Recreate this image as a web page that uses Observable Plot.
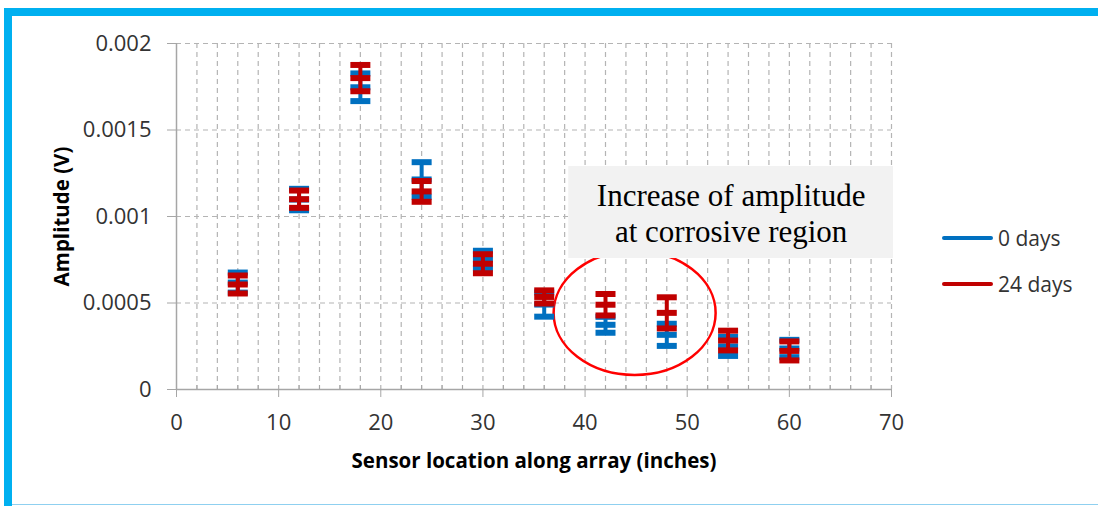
<!DOCTYPE html>
<html>
<head>
<meta charset="utf-8">
<script src="https://cdn.jsdelivr.net/npm/d3@7"></script>
<script src="https://cdn.jsdelivr.net/npm/@observablehq/plot@0.6"></script>
<style>
  html, body { margin: 0; padding: 0; background: #fff; }
  #wrap { position: relative; width: 1098px; height: 506px; overflow: hidden; font-family: "Open Sans", sans-serif; }
  #chart svg { display: block; }
  .bar { position: absolute; background: #00b0f0; }
  .legend { position: absolute; left: 942px; top: 0; font-size: 21px; color: #333; }
  .legend .item { position: absolute; left: 0; white-space: nowrap; display: flex; align-items: center; }
  .legend .sw { width: 51px; height: 4px; border-radius: 2px; margin-right: 5px; }
</style>
</head>
<body>
<div id="wrap">
  <div id="chart"></div>
  <div class="bar" style="left:4px;top:8px;width:8px;height:498px;"></div>
  <div class="bar" style="left:4px;top:8px;width:1094px;height:8px;"></div>
  <div style="position:absolute;left:12px;top:504px;width:1086px;height:1px;background:#8fd0f0;"></div>
  <div class="legend" id="legend"></div>
</div>
<script>
// ---- data ----
const positions = [6, 12, 18, 24, 30, 36, 42, 48, 54, 60];
const series = ["0 days", "24 days"];
const colors = ["#0070c0", "#c00000"];
const mean0 = [0.000618, 0.001098, 0.001747, 0.001214, 0.000751, 0.000491, 0.000374, 0.000316, 0.000249, 0.000237];
const err0  = [0.000058, 0.000062, 0.00008, 0.0001, 0.000051, 0.00007, 0.000046, 0.000064, 0.000055, 0.00005];
const mean24 = [0.000607, 0.0011, 0.0018, 0.001145, 0.000727, 0.000535, 0.00049, 0.000443, 0.000283, 0.000223];
const err24  = [0.000052, 0.00005, 0.000076, 0.00006, 0.000055, 0.000038, 0.000062, 0.00009, 0.000057, 0.000055];
const xTicks = [0, 10, 20, 30, 40, 50, 60, 70];
const xMinor = d3.range(2, 71, 2);
const yTicks = [0, 0.0005, 0.001, 0.0015, 0.002];
const annotationLines = ["Increase of amplitude", "at corrosive region"];
const annotationBox = [{x1: 38.4, x2: 70.2, y1: 0.000757, y2: 0.001289}];
const annotationText = [{x: 54.3, y: 0.00112, text: annotationLines[0]}, {x: 54.3, y: 0.000912, text: annotationLines[1]}];
const circleCenter = {x: 44.9, y: 0.00044};
const xLabel = "Sensor location along array (inches)";
const yLabel = "Amplitude (V)";

const rows = [];
positions.forEach((p, i) => {
  rows.push({x: p, series: series[0], m: mean0[i], lo: mean0[i] - err0[i], hi: mean0[i] + err0[i]});
});
positions.forEach((p, i) => {
  rows.push({x: p, series: series[1], m: mean24[i], lo: mean24[i] - err24[i], hi: mean24[i] + err24[i]});
});
const bar = {draw(ctx) { ctx.rect(-10, -3, 20, 6); }};
const colorOf = s => colors[series.indexOf(s)];

function errMarks(s) {
  const d = rows.filter(r => r.series === s);
  const c = colorOf(s);
  return [
    Plot.ruleX(d, {x: "x", y1: "lo", y2: "hi", stroke: c, strokeWidth: 4}),
    Plot.dot(d, {x: "x", y: "hi", symbol: bar, fill: c, stroke: "none"}),
    Plot.dot(d, {x: "x", y: "m", symbol: bar, fill: c, stroke: "none"}),
    Plot.dot(d, {x: "x", y: "lo", symbol: bar, fill: c, stroke: "none"})
  ];
}

const gridStyle = {stroke: "#b4b4b4", strokeOpacity: 1, strokeWidth: 1.2, strokeDasharray: "5,4"};

const chart = Plot.plot({
  width: 1098,
  height: 506,
  marginLeft: 176,
  marginRight: 207,
  marginTop: 43,
  marginBottom: 117,
  style: {fontFamily: "Open Sans, sans-serif", background: "transparent"},
  x: {domain: [0, 70]},
  y: {domain: [0, 0.002]},
  marks: [
    Plot.gridX(xMinor, gridStyle),
    Plot.gridY(yTicks.filter(d => d > 0), gridStyle),
    Plot.rect(annotationBox, {x1: "x1", x2: "x2", y1: "y1", y2: "y2", fill: "#f2f2f2"}),
    Plot.text(annotationText, {x: "x", y: "y", text: "text", fontFamily: "Liberation Serif, serif", fontSize: 31, fill: "#000"}),
    Plot.ruleY([0], {stroke: "#a6a6a6", strokeWidth: 1.5}),
    Plot.ruleX([0], {stroke: "#a6a6a6", strokeWidth: 1.5}),
    Plot.axisY({ticks: yTicks, tickSize: 9, tickPadding: 16, fontSize: 22, stroke: "#a6a6a6", fill: "#333",
      tickFormat: d => d === 0 ? "0" : String(d), label: null}),
    Plot.axisX({ticks: xTicks, tickSize: 8, tickPadding: 17, fontSize: 22, stroke: "#a6a6a6", fill: "#333",
      tickFormat: d => String(d), label: null}),
    Plot.axisX({ticks: xMinor.filter(d => d % 10 !== 0), tickSize: 4, text: null, dy: -4, stroke: "#a6a6a6", label: null}),
    Plot.text([xLabel], {frameAnchor: "bottom", dy: 78, text: d => d, fontWeight: "bold", fontSize: 20.5, fill: "#000"}),
    Plot.text([yLabel], {frameAnchor: "left", dx: -114, rotate: -90, textAnchor: "middle", text: d => d, fontWeight: "bold", fontSize: 20.5, fill: "#000"}),
    ...errMarks(series[0]),
    ...errMarks(series[1])
  ]
});
document.getElementById("chart").appendChild(chart);

// ellipse highlight (beneath the annotation box)
const sx = chart.scale("x"), sy = chart.scale("y");
const rectG = chart.querySelector('g[aria-label="rect"]');
const ell = document.createElementNS("http://www.w3.org/2000/svg", "ellipse");
ell.setAttribute("cx", sx.apply(circleCenter.x));
ell.setAttribute("cy", sy.apply(circleCenter.y));
ell.setAttribute("rx", 81);
ell.setAttribute("ry", 62);
ell.setAttribute("fill", "none");
ell.setAttribute("stroke", "#ff0000");
ell.setAttribute("stroke-width", 2.5);
rectG.parentNode.insertBefore(ell, rectG);

// legend
const legend = document.getElementById("legend");
const legendY = [238, 284];
series.forEach((s, i) => {
  const it = document.createElement("div");
  it.className = "item";
  it.style.top = (legendY[i] - 15) + "px";
  it.style.height = "30px";
  it.innerHTML = `<div class="sw" style="background:${colors[i]}"></div><span>${s}</span>`;
  legend.appendChild(it);
});
</script>
</body>
</html>
